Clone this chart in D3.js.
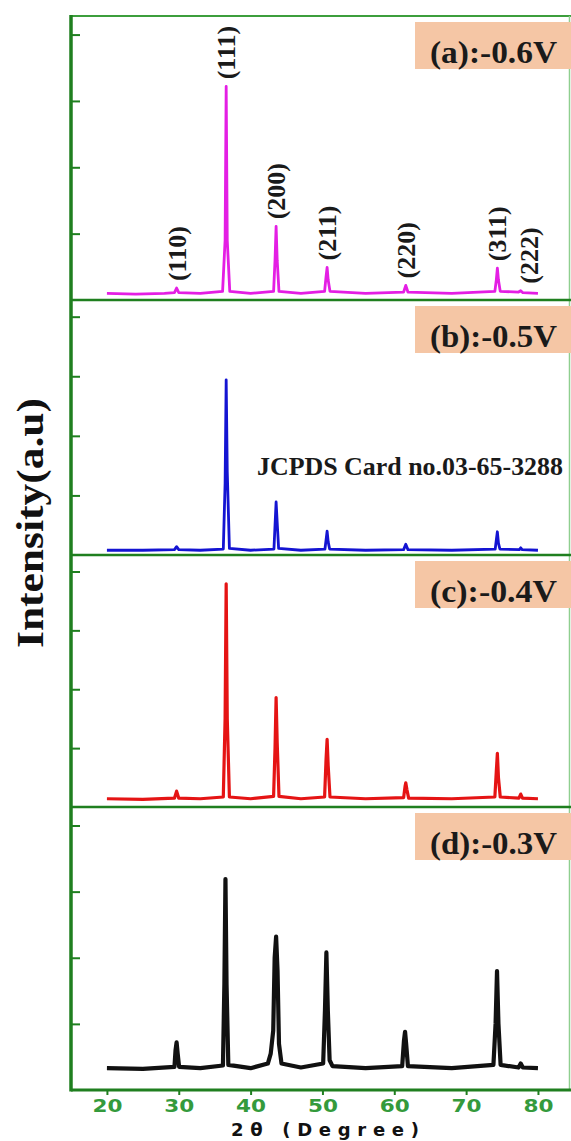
<!DOCTYPE html>
<html>
<head>
<meta charset="utf-8">
<script src="https://cdn.jsdelivr.net/npm/d3@7"></script>
<style>
  body { margin: 0; background: #fff; }
  svg { display: block; }
</style>
</head>
<body>
<div id="chart"></div>
<script>
// XRD scans, [2theta (deg), intensity (a.u., tick units)]
const scanA = [
  [20.0,0.10],[24.0,0.09],[28.0,0.10],[29.4,0.11],[29.7,0.18],[30.0,0.11],[33.0,0.10],
  [36.1,0.13],[36.45,0.9],[36.6,3.22],[36.75,0.9],[37.1,0.13],[40.0,0.10],
  [43.2,0.13],[43.4,0.6],[43.55,1.11],[43.7,0.6],[43.95,0.13],[47.0,0.10],
  [50.3,0.13],[50.5,0.35],[50.65,0.49],[50.8,0.3],[51.05,0.13],[56.0,0.10],
  [61.3,0.12],[61.6,0.22],[61.9,0.12],[68.0,0.10],
  [74.0,0.13],[74.2,0.3],[74.35,0.48],[74.5,0.3],[74.75,0.13],
  [77.3,0.12],[77.6,0.14],[77.9,0.11],[80.0,0.10]
];
const scanB = [
  [20.0,0.08],[25.0,0.08],[29.4,0.09],[29.7,0.14],[30.0,0.09],[33.0,0.08],
  [36.2,0.10],[36.45,1.2],[36.6,2.94],[36.75,1.4],[37.05,0.11],[40.0,0.08],
  [43.25,0.10],[43.4,0.5],[43.55,0.89],[43.7,0.55],[43.9,0.11],[47.0,0.08],
  [50.35,0.10],[50.5,0.25],[50.65,0.40],[50.8,0.22],[51.0,0.10],[56.0,0.08],
  [61.3,0.09],[61.6,0.18],[61.9,0.09],[68.0,0.08],
  [74.05,0.10],[74.2,0.25],[74.35,0.39],[74.5,0.2],[74.7,0.10],
  [77.4,0.09],[77.6,0.12],[77.8,0.09],[80.0,0.08]
];
const scanC = [
  [20.0,0.14],[25.0,0.13],[29.4,0.15],[29.7,0.27],[30.0,0.15],[33.0,0.14],
  [36.2,0.17],[36.45,1.5],[36.6,3.79],[36.75,1.5],[37.05,0.17],[40.0,0.14],
  [43.2,0.18],[43.4,1.0],[43.55,1.86],[43.7,1.1],[43.95,0.18],[47.0,0.14],
  [50.3,0.17],[50.5,0.8],[50.65,1.15],[50.8,0.7],[51.05,0.17],[56.0,0.14],
  [61.3,0.16],[61.5,0.35],[61.6,0.41],[61.75,0.3],[62.0,0.15],[68.0,0.14],
  [74.0,0.17],[74.2,0.6],[74.35,0.91],[74.5,0.5],[74.75,0.17],
  [77.35,0.15],[77.6,0.22],[77.85,0.15],[80.0,0.14]
];
const scanD = [
  [20.0,0.33],[25.0,0.32],[29.4,0.35],[29.55,0.6],[29.7,0.72],[29.85,0.55],[30.05,0.35],[33.0,0.33],
  [36.15,0.37],[36.35,1.6],[36.5,3.19],[36.65,1.6],[36.9,0.38],[40.0,0.33],
  [42.4,0.40],[42.8,0.55],[43.15,0.9],[43.35,2.0],[43.55,2.32],[43.75,1.8],[43.95,0.7],[44.3,0.40],[47.0,0.34],
  [50.1,0.40],[50.35,1.2],[50.55,2.08],[50.75,1.2],[51.0,0.45],[51.4,0.36],[56.0,0.33],
  [61.1,0.36],[61.35,0.75],[61.5,0.88],[61.65,0.7],[61.9,0.36],[68.0,0.33],
  [73.8,0.38],[74.1,1.0],[74.3,1.80],[74.5,1.0],[74.8,0.38],
  [77.3,0.34],[77.6,0.40],[77.9,0.34],[80.0,0.33]
];

const panelLabels = ['(a):-0.6V', '(b):-0.5V', '(c):-0.4V', '(d):-0.3V'];
const traceColors = ['#e41ee4', '#1414d2', '#e51414', '#111111'];
const hklLabels = ['(110)', '(111)', '(200)', '(211)', '(220)', '(311)', '(222)'];
const hklPos = [29.7, 36.6, 43.55, 50.65, 61.6, 74.35, 77.6];
const hklHeight = [0.18, 3.22, 1.11, 0.49, 0.22, 0.48, 0.14];
const xTicks = [20, 30, 40, 50, 60, 70, 80];
const yTicks = [1, 2, 3, 4];

const scans = [scanA, scanB, scanC, scanD];
const W = 571, H = 1141;
const GREEN = '#1f7f1f';
const layout = [
  { top: 16, bottom: 300, sw: 2.8 },
  { top: 300, bottom: 555, sw: 2.8 },
  { top: 555, bottom: 807, sw: 3.2 },
  { top: 807, bottom: 1090, sw: 4.2 }
];

const svg = d3.select('#chart')
  .append('svg')
  .attr('width', W)
  .attr('height', H);

const x = d3.scaleLinear().domain([15, 84.46]).range([71, 570]);

// outer frame: top and right
svg.append('line')
  .attr('x1', 71).attr('x2', W).attr('y1', 16).attr('y2', 16)
  .attr('stroke', '#3c9e3c').attr('stroke-width', 2);
svg.append('line')
  .attr('x1', 569.5).attr('x2', 569.5).attr('y1', 16).attr('y2', 1090)
  .attr('stroke', '#8fcf8f').attr('stroke-width', 1.5);

const yScales = [];

scans.forEach((scan, i) => {
  const L = layout[i];
  const y = d3.scaleLinear().domain([0, 4.28]).range([L.bottom, L.top]);
  yScales.push(y);

  // label box
  svg.append('rect')
    .attr('x', 415).attr('y', L.top + 6)
    .attr('width', W - 415).attr('height', 47)
    .attr('fill', '#f5c6a5');
  svg.append('text')
    .attr('x', 557).attr('y', L.top + 47)
    .attr('text-anchor', 'end')
    .attr('font-family', 'Liberation Serif, Times New Roman, serif')
    .attr('font-weight', 'bold')
    .attr('font-size', 31)
    .attr('textLength', 127)
    .attr('lengthAdjust', 'spacingAndGlyphs')
    .attr('fill', '#1a1a1a')
    .text(panelLabels[i]);

  // trace
  const line = d3.line()
    .x(d => x(d[0]))
    .y(d => y(d[1]));
  svg.append('path')
    .datum(scan)
    .attr('d', line)
    .attr('fill', 'none')
    .attr('stroke', traceColors[i])
    .attr('stroke-width', L.sw)
    .attr('stroke-linejoin', 'round');

  // inward ticks on left axis
  const ax = svg.append('g')
    .attr('transform', 'translate(71,0)')
    .call(d3.axisRight(y).tickValues(yTicks).tickSize(9).tickFormat(''));
  ax.select('.domain').remove();
  ax.selectAll('line').attr('stroke', GREEN).attr('stroke-width', 2);

  // separator / bottom line of panel
  svg.append('line')
    .attr('x1', 71).attr('x2', W)
    .attr('y1', L.bottom).attr('y2', L.bottom)
    .attr('stroke', GREEN).attr('stroke-width', i === 3 ? 3 : 2.5);
});

// left axis line
svg.append('line')
  .attr('x1', 71).attr('x2', 71).attr('y1', 15).attr('y2', 1091.5)
  .attr('stroke', GREEN).attr('stroke-width', 3.5);

// hkl labels on panel (a)
const yA = yScales[0];
hklLabels.forEach((lab, j) => {
  const px = x(hklPos[j]) + 9 + (lab === '(222)' ? 8 : 0);
  const py = yA(hklHeight[j]) - 7;
  svg.append('text')
    .attr('transform', `translate(${px},${py}) rotate(-90)`)
    .attr('font-family', 'Liberation Serif, Times New Roman, serif')
    .attr('font-weight', 'bold')
    .attr('font-size', 26)
    .attr('fill', '#1a1a1a')
    .text(lab);
});

// JCPDS note in panel (b)
svg.append('text')
  .attr('x', 563).attr('y', 475)
  .attr('text-anchor', 'end')
  .attr('font-family', 'Liberation Serif, Times New Roman, serif')
  .attr('font-weight', 'bold')
  .attr('font-size', 26)
  .attr('textLength', 306)
  .attr('lengthAdjust', 'spacingAndGlyphs')
  .attr('fill', '#1a1a1a')
  .text('JCPDS Card no.03-65-3288');

// bottom x axis
const xAxis = svg.append('g')
  .attr('transform', 'translate(0,1090)')
  .call(d3.axisBottom(x).tickValues(xTicks).tickSize(5).tickFormat(d3.format('d')));
xAxis.select('.domain').remove();
xAxis.selectAll('line').attr('stroke', GREEN).attr('stroke-width', 2);
xAxis.selectAll('text')
  .attr('font-family', 'DejaVu Sans, sans-serif')
  .attr('font-weight', 'bold')
  .attr('font-size', 17)
  .attr('textLength', 30)
  .attr('lengthAdjust', 'spacingAndGlyphs')
  .attr('fill', '#349a3c')
  .attr('dy', null)
  .attr('y', 22);

svg.append('text')
  .attr('x', 325).attr('y', 1136)
  .attr('text-anchor', 'middle')
  .attr('font-family', 'DejaVu Sans, sans-serif')
  .attr('font-weight', 'bold')
  .attr('font-size', 18)
  .attr('textLength', 188)
  .attr('lengthAdjust', 'spacing')
  .attr('fill', '#111')
  .text('2\u03B8 (Degree)');

// y axis title
svg.append('text')
  .attr('transform', 'translate(43,523) rotate(-90)')
  .attr('text-anchor', 'middle')
  .attr('font-family', 'Liberation Serif, Times New Roman, serif')
  .attr('font-weight', 'bold')
  .attr('font-size', 38)
  .attr('textLength', 250)
  .attr('lengthAdjust', 'spacingAndGlyphs')
  .attr('fill', '#111')
  .text('Intensity(a.u)');
</script>
</body>
</html>
